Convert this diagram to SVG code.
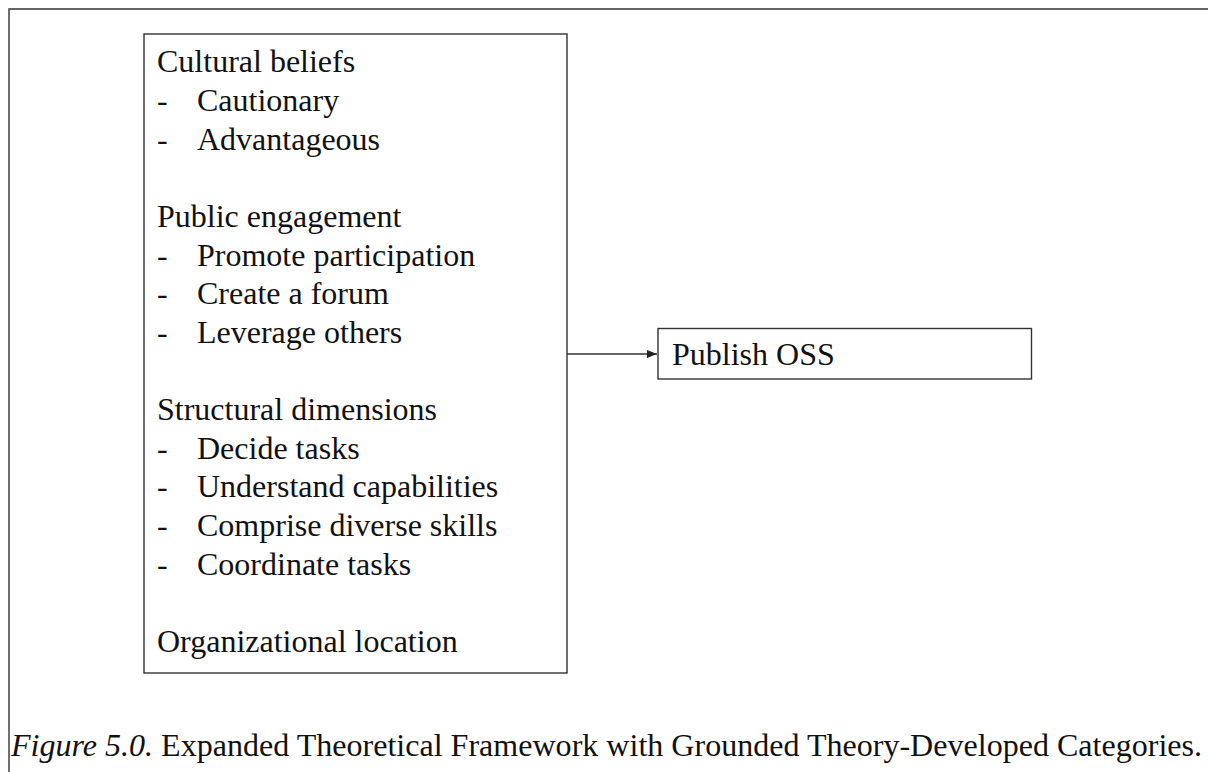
<svg xmlns="http://www.w3.org/2000/svg" width="1208" height="772" viewBox="0 0 1208 772">
  <style>
    .t { font-family: "Liberation Serif", "Times New Roman", serif; font-size: 32px; fill: #111; }
    .box { fill: #fff; stroke: #333; stroke-width: 1.4; }
    .frame { fill: none; stroke: #333; stroke-width: 1.4; }
    .edge { fill: none; stroke: #333; stroke-width: 1.4; }
  </style>
  <defs>
    <marker id="arrow" markerWidth="10" markerHeight="8" refX="10" refY="4" orient="auto" markerUnits="userSpaceOnUse">
      <path d="M0,0 L10,4 L0,8 Z" fill="#222"/>
    </marker>
  </defs>
  <rect width="1208" height="772" fill="#fff"/>

  <!-- open figure frame (top and left rules) -->
  <path class="frame" d="M9,772 L9,9 L1208,9"/>

  <!-- category list -->
  <g id="categories">
    <rect class="box" x="144" y="34" width="423" height="639"/>
    <text class="t" x="157" y="72.3">Cultural beliefs</text>
    <text class="t" x="157" y="110.9">-</text><text class="t" x="197" y="110.9">Cautionary</text>
    <text class="t" x="157" y="149.6">-</text><text class="t" x="197" y="149.6">Advantageous</text>
    <text class="t" x="157" y="226.8">Public engagement</text>
    <text class="t" x="157" y="265.5">-</text><text class="t" x="197" y="265.5">Promote participation</text>
    <text class="t" x="157" y="304.1">-</text><text class="t" x="197" y="304.1">Create a forum</text>
    <text class="t" x="157" y="342.7">-</text><text class="t" x="197" y="342.7">Leverage others</text>
    <text class="t" x="157" y="420">Structural dimensions</text>
    <text class="t" x="157" y="458.6">-</text><text class="t" x="197" y="458.6">Decide tasks</text>
    <text class="t" x="157" y="497.2">-</text><text class="t" x="197" y="497.2">Understand capabilities</text>
    <text class="t" x="157" y="535.9">-</text><text class="t" x="197" y="535.9">Comprise diverse skills</text>
    <text class="t" x="157" y="574.5">-</text><text class="t" x="197" y="574.5">Coordinate tasks</text>
    <text class="t" x="157" y="651.7">Organizational location</text>
  </g>

  <!-- outcome -->
  <g id="publish">
    <rect class="box" x="658" y="328.5" width="373.5" height="50.5"/>
    <text class="t" x="672" y="365">Publish OSS</text>
  </g>

  <g id="connectors">
    <line class="edge" x1="567" y1="354" x2="657" y2="354" marker-end="url(#arrow)"/>
  </g>

  <text class="t" x="11" y="756" textLength="1191" lengthAdjust="spacingAndGlyphs"><tspan font-style="italic">Figure 5.0.</tspan> Expanded Theoretical Framework with Grounded Theory-Developed Categories.</text>
</svg>
